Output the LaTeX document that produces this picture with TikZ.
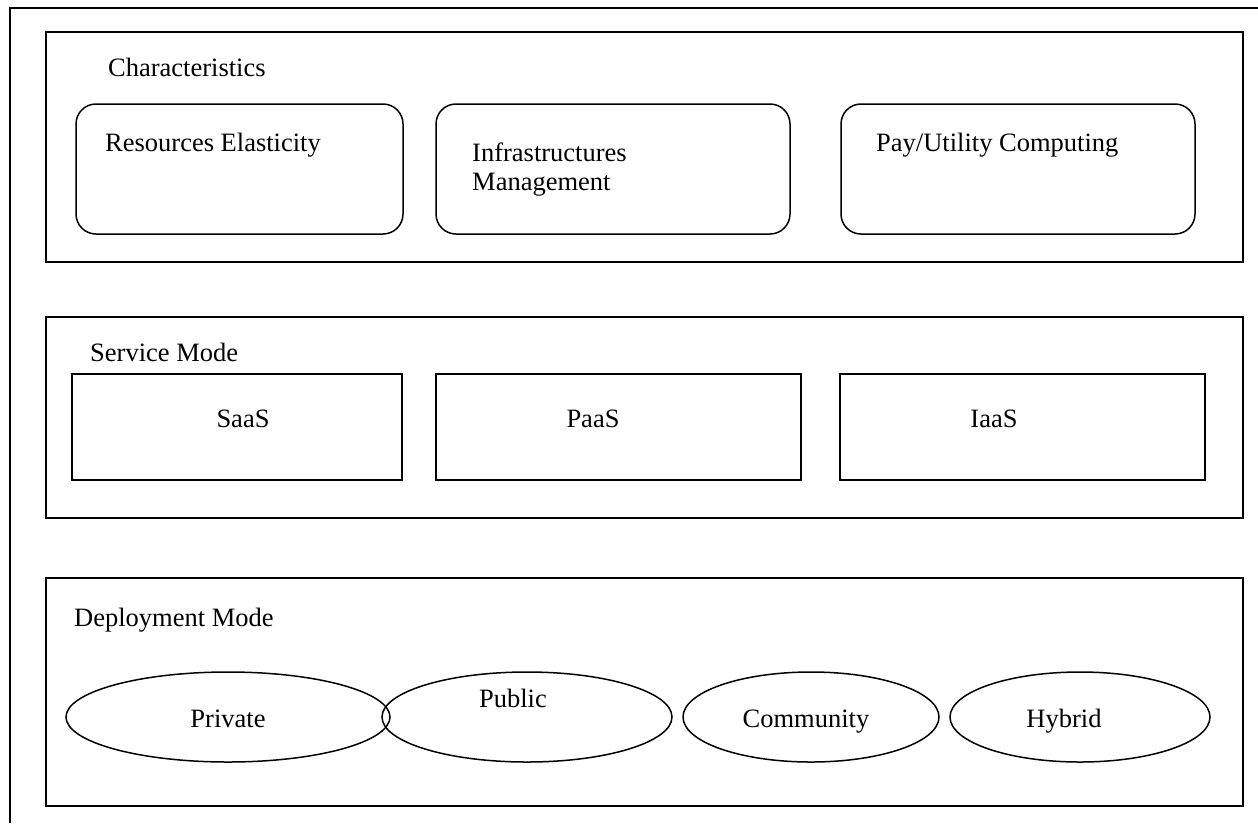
\documentclass[tikz,border=0pt]{standalone}
\usepackage{fontspec}
\setmainfont{Liberation Serif}
\usetikzlibrary{shapes.geometric}
\tikzset{
  frameline/.style={line width=1.6pt},
  panel/.style={draw, line width=1.6pt},
  roundbox/.style={draw, line width=1.5pt, rounded corners=20pt},
  sqbox/.style={draw, line width=1.5pt},
  ovalbox/.style={draw, line width=1.5pt},
  lbl/.style={inner sep=0pt, font=\fontsize{26.5}{29}\selectfont},
}
\begin{document}
\begin{tikzpicture}[x=1pt,y=-1pt]
\useasboundingbox (0,0) rectangle (1258,823);
\fill[white] (0,0) rectangle (1258,823);
% outer frame (only top and left edges visible)
\draw[frameline] (10,823) -- (10,8) -- (1258,8);
% panels
\draw[panel] (46,32) rectangle (1243,262);
\draw[panel] (46,317) rectangle (1243,518);
\draw[panel] (46,578) rectangle (1243,806);
% Characteristics
\node[lbl, anchor=base west] (charT) at (108,76) {Characteristics};
\draw[roundbox] (76,104) rectangle (403,234);
\draw[roundbox] (436,104) rectangle (790,234);
\draw[roundbox] (841,104) rectangle (1195,234);
\node[lbl, anchor=base west] (resel) at (105,151) {Resources Elasticity};
\node[lbl, anchor=base west] (infra1) at (472,161) {Infrastructures};
\node[lbl, anchor=base west] (infra2) at (472,190) {Management};
\node[lbl, anchor=base west] (pay) at (876,151) {Pay/Utility Computing};
% Service Mode
\node[lbl, anchor=base west] (servT) at (90,361) {Service Mode};
\draw[sqbox] (72,374) rectangle (402,480);
\draw[sqbox] (436,374) rectangle (801,480);
\draw[sqbox] (840,374) rectangle (1205,480);
\node[lbl, anchor=base] (saas) at (243,427) {SaaS};
\node[lbl, anchor=base] (paas) at (593,427) {PaaS};
\node[lbl, anchor=base] (iaas) at (994,427) {IaaS};
% Deployment Mode
\node[lbl, anchor=base west] (depT) at (74,626) {Deployment Mode};
\draw[ovalbox] (228,717) ellipse [x radius=162, y radius=45];
\draw[ovalbox] (527,717) ellipse [x radius=145, y radius=45];
\draw[ovalbox] (811,717) ellipse [x radius=128, y radius=45];
\draw[ovalbox] (1080,717) ellipse [x radius=130, y radius=45];
\node[lbl, anchor=base] (priv) at (228,727) {Private};
\node[lbl, anchor=base] (pub) at (513,707) {Public};
\node[lbl, anchor=base] (comm) at (806,727) {Community};
\node[lbl, anchor=base] (hyb) at (1064,727) {Hybrid};
\end{tikzpicture}
\end{document}
